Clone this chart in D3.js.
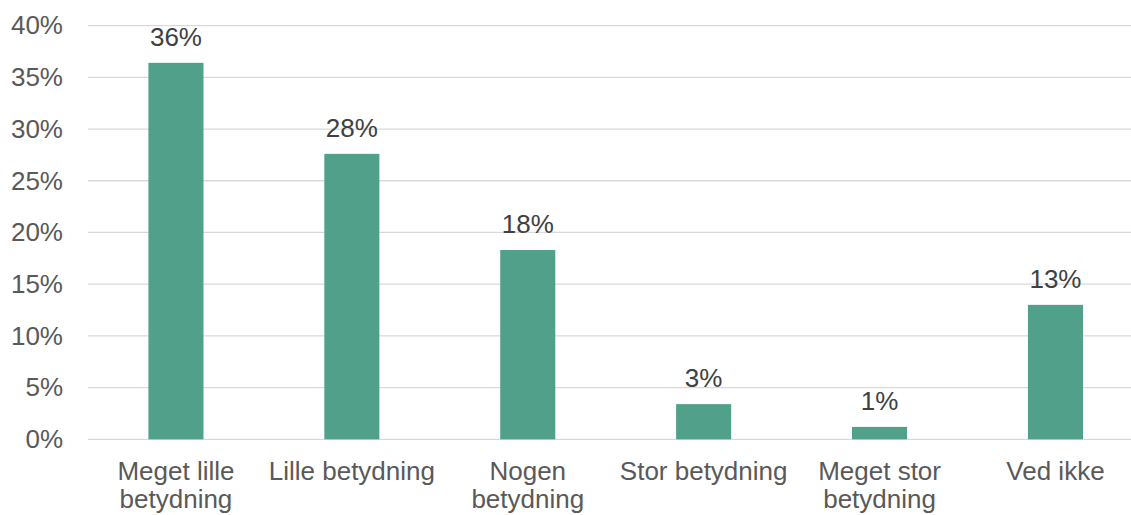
<!DOCTYPE html>
<html>
<head>
<meta charset="utf-8">
<script src="https://cdn.jsdelivr.net/npm/d3@7"></script>
<style>
  body { margin: 0; background: #fff; }
  svg { font-family: "Liberation Sans", Arial, sans-serif; }
</style>
</head>
<body>
<svg class="chart" width="1131" height="515"></svg>
<script>
var categories = ["Meget lille betydning", "Lille betydning", "Nogen betydning", "Stor betydning", "Meget stor betydning", "Ved ikke"];
var values = [0.364, 0.276, 0.183, 0.034, 0.012, 0.130];
var labels = ["36%", "28%", "18%", "3%", "1%", "13%"];
var yTicks = [0, 0.05, 0.10, 0.15, 0.20, 0.25, 0.30, 0.35, 0.40];

var svg = d3.select(".chart"),
  margin = { top: 25.6, right: -12.4, bottom: 75.7, left: 88 },
  width = +svg.attr("width") - margin.left - margin.right,
  height = +svg.attr("height") - margin.top - margin.bottom,
  g = svg.append("g")
    .attr("transform", "translate(" + margin.left + "," + margin.top + ")");

var x = d3.scaleBand().domain(categories).range([0, width]).paddingInner(0.687).paddingOuter(0.3435);
var y = d3.scaleLinear().domain([0, 0.4]).range([height, 0]);

// gridlines
g.append("g")
  .selectAll("line")
  .data(yTicks)
  .enter().append("line")
  .attr("x1", 0)
  .attr("x2", width)
  .attr("y1", function(d) { return y(d); })
  .attr("y2", function(d) { return y(d); })
  .attr("stroke", "#d9d9d9")
  .attr("stroke-width", 1.3);

// y axis labels
var yAxis = g.append("g")
  .call(d3.axisLeft(y).tickValues(yTicks).tickFormat(d3.format(".0%")).tickSize(0).tickPadding(25));
yAxis.select(".domain").remove();
yAxis.selectAll("text")
  .attr("fill", "#595959")
  .style("font-size", "26px")
  .style("font-family", "Liberation Sans, Arial, sans-serif");

// bars
g.selectAll(".bar")
  .data(values)
  .enter().append("rect")
  .attr("class", "bar")
  .attr("x", function(d, i) { return x(categories[i]); })
  .attr("width", x.bandwidth())
  .attr("y", function(d) { return y(d); })
  .attr("height", function(d) { return height - y(d); })
  .attr("fill", "#50a08a");

// value labels
g.selectAll(".val")
  .data(values)
  .enter().append("text")
  .attr("class", "val")
  .attr("x", function(d, i) { return x(categories[i]) + x.bandwidth() / 2; })
  .attr("y", function(d) { return y(d) - 17; })
  .attr("text-anchor", "middle")
  .attr("fill", "#404040")
  .style("font-size", "26px")
  .text(function(d, i) { return labels[i]; });

// x axis labels
var xAxis = g.append("g")
  .attr("transform", "translate(0," + height + ")")
  .call(d3.axisBottom(x).tickSize(0).tickPadding(0));
xAxis.select(".domain").remove();
xAxis.selectAll("text")
  .attr("fill", "#595959")
  .style("font-size", "26px")
  .style("font-family", "Liberation Sans, Arial, sans-serif")
  .call(wrap, x.step() - 2);

function wrap(text, w) {
  text.each(function() {
    var t = d3.select(this),
      words = t.text().split(/\s+/),
      lines = [],
      line = [];
    t.text(null);
    var tspan = t.append("tspan");
    words.forEach(function(word) {
      line.push(word);
      tspan.text(line.join(" "));
      if (tspan.node().getComputedTextLength() > w && line.length > 1) {
        line.pop();
        lines.push(line.join(" "));
        line = [word];
      }
      tspan.text(line.join(" "));
    });
    lines.push(line.join(" "));
    t.text(null);
    lines.forEach(function(l, i) {
      t.append("tspan")
        .attr("x", 0)
        .attr("y", 40.5 + i * 28)
        .text(l);
    });
    t.attr("dy", null);
  });
}
</script>
</body>
</html>
